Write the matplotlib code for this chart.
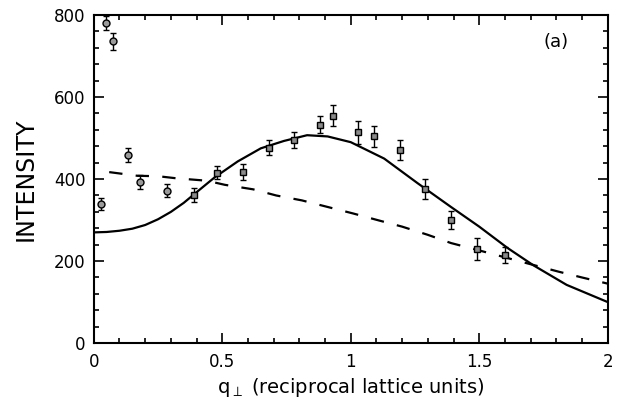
"""Intensity vs q_perp with solid and dashed model curves, panel (a)."""

import matplotlib
matplotlib.use("Agg")
import matplotlib.pyplot as plt
from matplotlib.ticker import MultipleLocator

# measured points, low-q group (circles)
q_circ = [0.03, 0.046, 0.073, 0.134, 0.18, 0.285]
i_circ = [339, 780, 736, 459, 393, 372]
e_circ = [15, 17, 20, 18, 17, 15]

# measured points, rod profile (squares)
q_sq = [0.39, 0.48, 0.58, 0.68, 0.78, 0.88, 0.93, 1.03, 1.09, 1.19,
        1.29, 1.39, 1.49, 1.60]
i_sq = [361, 416, 417, 477, 495, 533, 555, 514, 504, 471,
        375, 300, 230, 215]
e_sq = [18, 16, 20, 19, 20, 20, 26, 28, 25, 24, 24, 22, 27, 20]

# solid model curve
q_fit = [0.0, 0.05, 0.1, 0.15, 0.2, 0.25, 0.3, 0.35, 0.4, 0.47, 0.56, 0.65,
         0.74, 0.83, 0.91, 1.0, 1.13, 1.26, 1.39, 1.5, 1.61, 1.71, 1.84, 2.0]
i_fit = [270, 271, 274, 279, 288, 302, 320, 342, 368, 404, 443, 475,
         493, 507, 504, 490, 450, 390, 332, 284, 232, 190, 142, 100]

# dashed model curve
q_dash = [0.06, 0.17, 0.25, 0.32, 0.44, 0.51, 0.62, 0.71, 0.81, 0.91, 1.01,
          1.11, 1.20, 1.30, 1.39, 1.50, 1.69, 1.81, 1.90, 2.0]
i_dash = [417, 408, 407, 402, 396, 386, 375, 360, 348, 332, 316,
          299, 284, 264, 244, 226, 194, 174, 160, 145]

x_ticks = [0, 0.5, 1, 1.5, 2]
x_tick_labels = ["0", "0.5", "1", "1.5", "2"]


def main():
    plt.rcParams["font.family"] = "DejaVu Sans"
    fig = plt.figure(figsize=(6.17, 4.07), dpi=100)
    ax = fig.add_axes([0.152, 0.157, 0.833, 0.806])

    ax.plot(q_fit, i_fit, color="black", linewidth=1.6, zorder=3)
    ax.plot(q_dash, i_dash, color="black", linewidth=1.6,
            linestyle=(0, (6, 6)), zorder=3)

    ax.errorbar(q_circ, i_circ, yerr=e_circ, fmt="o", markersize=5,
                markerfacecolor="#9a9a9a", markeredgecolor="black",
                markeredgewidth=1.0, ecolor="black", elinewidth=1.0,
                capsize=2.5, capthick=1.0, zorder=4)
    ax.errorbar(q_sq, i_sq, yerr=e_sq, fmt="s", markersize=5,
                markerfacecolor="#8a8a8a", markeredgecolor="black",
                markeredgewidth=1.0, ecolor="black", elinewidth=1.0,
                capsize=2.5, capthick=1.0, zorder=4)

    ax.set_xlim(0, 2)
    ax.set_ylim(0, 800)
    ax.set_xticks(x_ticks)
    ax.set_xticklabels(x_tick_labels)
    ax.xaxis.set_minor_locator(MultipleLocator(0.1))
    ax.yaxis.set_major_locator(MultipleLocator(200))
    ax.yaxis.set_minor_locator(MultipleLocator(40))

    ax.tick_params(which="both", direction="in", top=True, right=True,
                   width=1.2)
    ax.tick_params(which="major", length=7, labelsize=12)
    ax.tick_params(axis="x", which="major", pad=7)
    ax.tick_params(axis="y", which="major", pad=6)
    ax.tick_params(which="minor", length=3.5)
    for sp in ax.spines.values():
        sp.set_linewidth(1.5)

    ax.set_ylabel("INTENSITY", fontsize=17, labelpad=12)
    ax.set_xlabel(r"q$_{\perp}$ (reciprocal lattice units)", fontsize=14,
                  labelpad=4)
    ax.text(0.9, 0.917, "(a)", transform=ax.transAxes, fontsize=13,
            ha="center", va="center")

    fig.savefig("out.png", dpi=100)


if __name__ == "__main__":
    main()
